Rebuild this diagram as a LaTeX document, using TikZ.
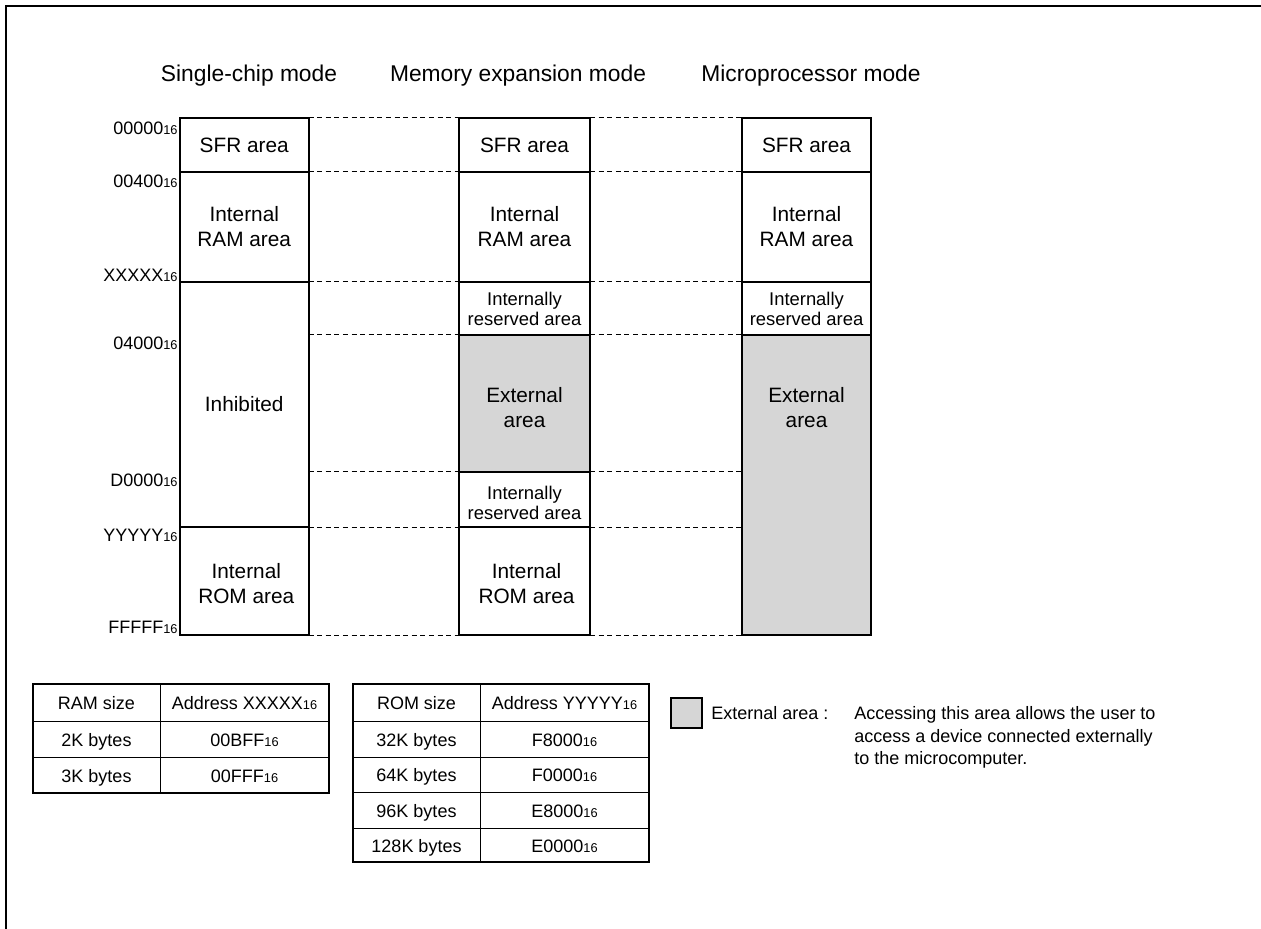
\documentclass[tikz,border=0pt]{standalone}
\usepackage{fontspec}
\setmainfont{Liberation Sans}
\usetikzlibrary{calc}

\definecolor{extgray}{gray}{0.84}
\newcommand{\hexnum}[1]{#1{\fontsize{6.4}{7}\selectfont 16}}

\begin{document}
\begin{tikzpicture}[x=0.5pt, y=-0.5pt,
	frame/.style={line width=1pt},
	block/.style={line width=1pt},
	guide/.style={line width=0.5pt, dash pattern=on 2.5pt off 1.8pt},
	tabframe/.style={line width=1pt},
	tabline/.style={line width=0.5pt},
	title/.style={font=\fontsize{11.4}{13}\selectfont, anchor=base, inner sep=0pt},
	area/.style={font=\fontsize{10.4}{12.5}\selectfont, align=center, inner sep=0pt},
	small/.style={font=\fontsize{9.2}{10}\selectfont, align=center, inner sep=0pt},
	addr/.style={font=\fontsize{9}{11}\selectfont, anchor=east, inner sep=0pt},
	cell/.style={font=\fontsize{9}{11}\selectfont, anchor=base, inner sep=0pt}]

	\useasboundingbox (0,0) rectangle (1261,929);

	% frame
	\draw[frame] (6,929) -- (6,6.5) -- (1261,6.5);

	% coordinates

	\foreach \lvl/\y in {a/118,b/172,c/282,d/335,e/472,f/527,g/635} {
		\coordinate (S\lvl) at (180,\y);
		\coordinate (T\lvl) at (308.5,\y);
		\coordinate (M\lvl) at (459,\y);
		\coordinate (N\lvl) at (590,\y);
		\coordinate (P\lvl) at (742,\y);
		\coordinate (Q\lvl) at (871,\y);
	}

	% mode titles
	\node[title] (single) at (249,81.5) {Single-chip mode};
	\node[title] (expand) at (518,81.5) {Memory expansion mode};
	\node[title] (micro) at (811,81.5) {Microprocessor mode};

	% guide lines
	\foreach \lvl in {a,...,g} {
		\draw[guide] (T\lvl) -- (M\lvl);
		\draw[guide] (N\lvl) -- (P\lvl);
	}

	% external areas
	\fill[extgray] (Md) rectangle (Ne);
	\fill[extgray] (Pd) rectangle (Qg);

	% memory blocks
	\draw[block] (Sa) rectangle (Tg);
	\foreach \lvl in {b,c,f} { \draw[block] (S\lvl) -- (T\lvl); }
	\draw[block] (Ma) rectangle (Ng);
	\foreach \lvl in {b,c,d,e,f} { \draw[block] (M\lvl) -- (N\lvl); }
	\draw[block] (Pa) rectangle (Qg);
	\foreach \lvl in {b,c,d} { \draw[block] (P\lvl) -- (Q\lvl); }

	% block labels

	\node[area] (sfr1) at ($(Sa)!0.5!(Tb)$) {SFR area};
	\node[area] (ram1) at ($(Sb)!0.5!(Tc)$) {Internal\\RAM area};
	\node[area] (inh1) at ($(Sc)!0.5!(Tf)$) {Inhibited};
	\node[area] (rom1) at ($(Sf)!0.5!(Tg)+(2,3)$) {Internal\\ROM area};

	\node[area] (sfr2) at ($(Ma)!0.5!(Nb)$) {SFR area};
	\node[area] (ram2) at ($(Mb)!0.5!(Nc)$) {Internal\\RAM area};
	\node[small] (res2a) at ($(Mc)!0.5!(Nd)$) {Internally\\reserved area};
	\node[area] (ext2) at ($(Md)!0.5!(Ne)+(0,4)$) {External\\area};
	\node[small] (res2b) at ($(Me)!0.5!(Nf)+(0,3)$) {Internally\\reserved area};
	\node[area] (rom2) at ($(Mf)!0.5!(Ng)+(2,3)$) {Internal\\ROM area};

	\node[area] (sfr3) at ($(Pa)!0.5!(Qb)$) {SFR area};
	\node[area] (ram3) at ($(Pb)!0.5!(Qc)$) {Internal\\RAM area};
	\node[small] (res3) at ($(Pc)!0.5!(Qd)$) {Internally\\reserved area};
	\node[area] (ext3) at (ext2 -| sfr3) {External\\area};

	% address labels
	\node[addr] (adra) at (178,128) {\hexnum{00000}};
	\node[addr] (adrb) at (178,181) {\hexnum{00400}};
	\node[addr] (adrc) at (178,275) {\hexnum{XXXXX}};
	\node[addr] (adrd) at (178,343) {\hexnum{04000}};
	\node[addr] (adre) at (178,480) {\hexnum{D0000}};
	\node[addr] (adrf) at (178,535) {\hexnum{YYYYY}};
	\node[addr] (adrg) at (178,627) {\hexnum{FFFFF}};

	% RAM table
	\draw[tabframe] (33,684) rectangle (329,793);
	\draw[tabline] (160,684) -- (160,793);
	\foreach \y in {721,757} { \draw[tabline] (33,\y) -- (329,\y); }
	\foreach \i/\y/\sz/\ad in {1/702.5/RAM size/Address \hexnum{XXXXX},
		2/739/2K bytes/\hexnum{00BFF}, 3/775/3K bytes/\hexnum{00FFF}} {
		\node[cell] (ramsz\i) at (96.5,\y+7) {\sz};
		\node[cell] (ramad\i) at (244.5,\y+7) {\ad};
	}

	% ROM table
	\draw[tabframe] (353,684) rectangle (649,862);
	\draw[tabline] (480,684) -- (480,862);
	\foreach \y in {721,757,792,828} { \draw[tabline] (353,\y) -- (649,\y); }
	\foreach \i/\y/\sz/\ad in {1/702.5/ROM size/Address \hexnum{YYYYY},
		2/739/32K bytes/\hexnum{F8000}, 3/774.5/64K bytes/\hexnum{F0000},
		4/810/96K bytes/\hexnum{E8000}, 5/845/128K bytes/\hexnum{E0000}} {
		\node[cell] (romsz\i) at (416.5,\y+7) {\sz};
		\node[cell] (romad\i) at (564.5,\y+7) {\ad};
	}

	% legend
	\draw[block, fill=extgray] (671,698) rectangle (702,728);
	\node[cell, anchor=base west] (legkey) at (711,719.5) {External area :};
	\node[cell, anchor=west, align=left, font=\fontsize{9}{11.25}\selectfont]
		(legtext) at (854,737.4) {Accessing this area allows the user to\\
		access a device connected externally\\to the microcomputer.};

\end{tikzpicture}
\end{document}
